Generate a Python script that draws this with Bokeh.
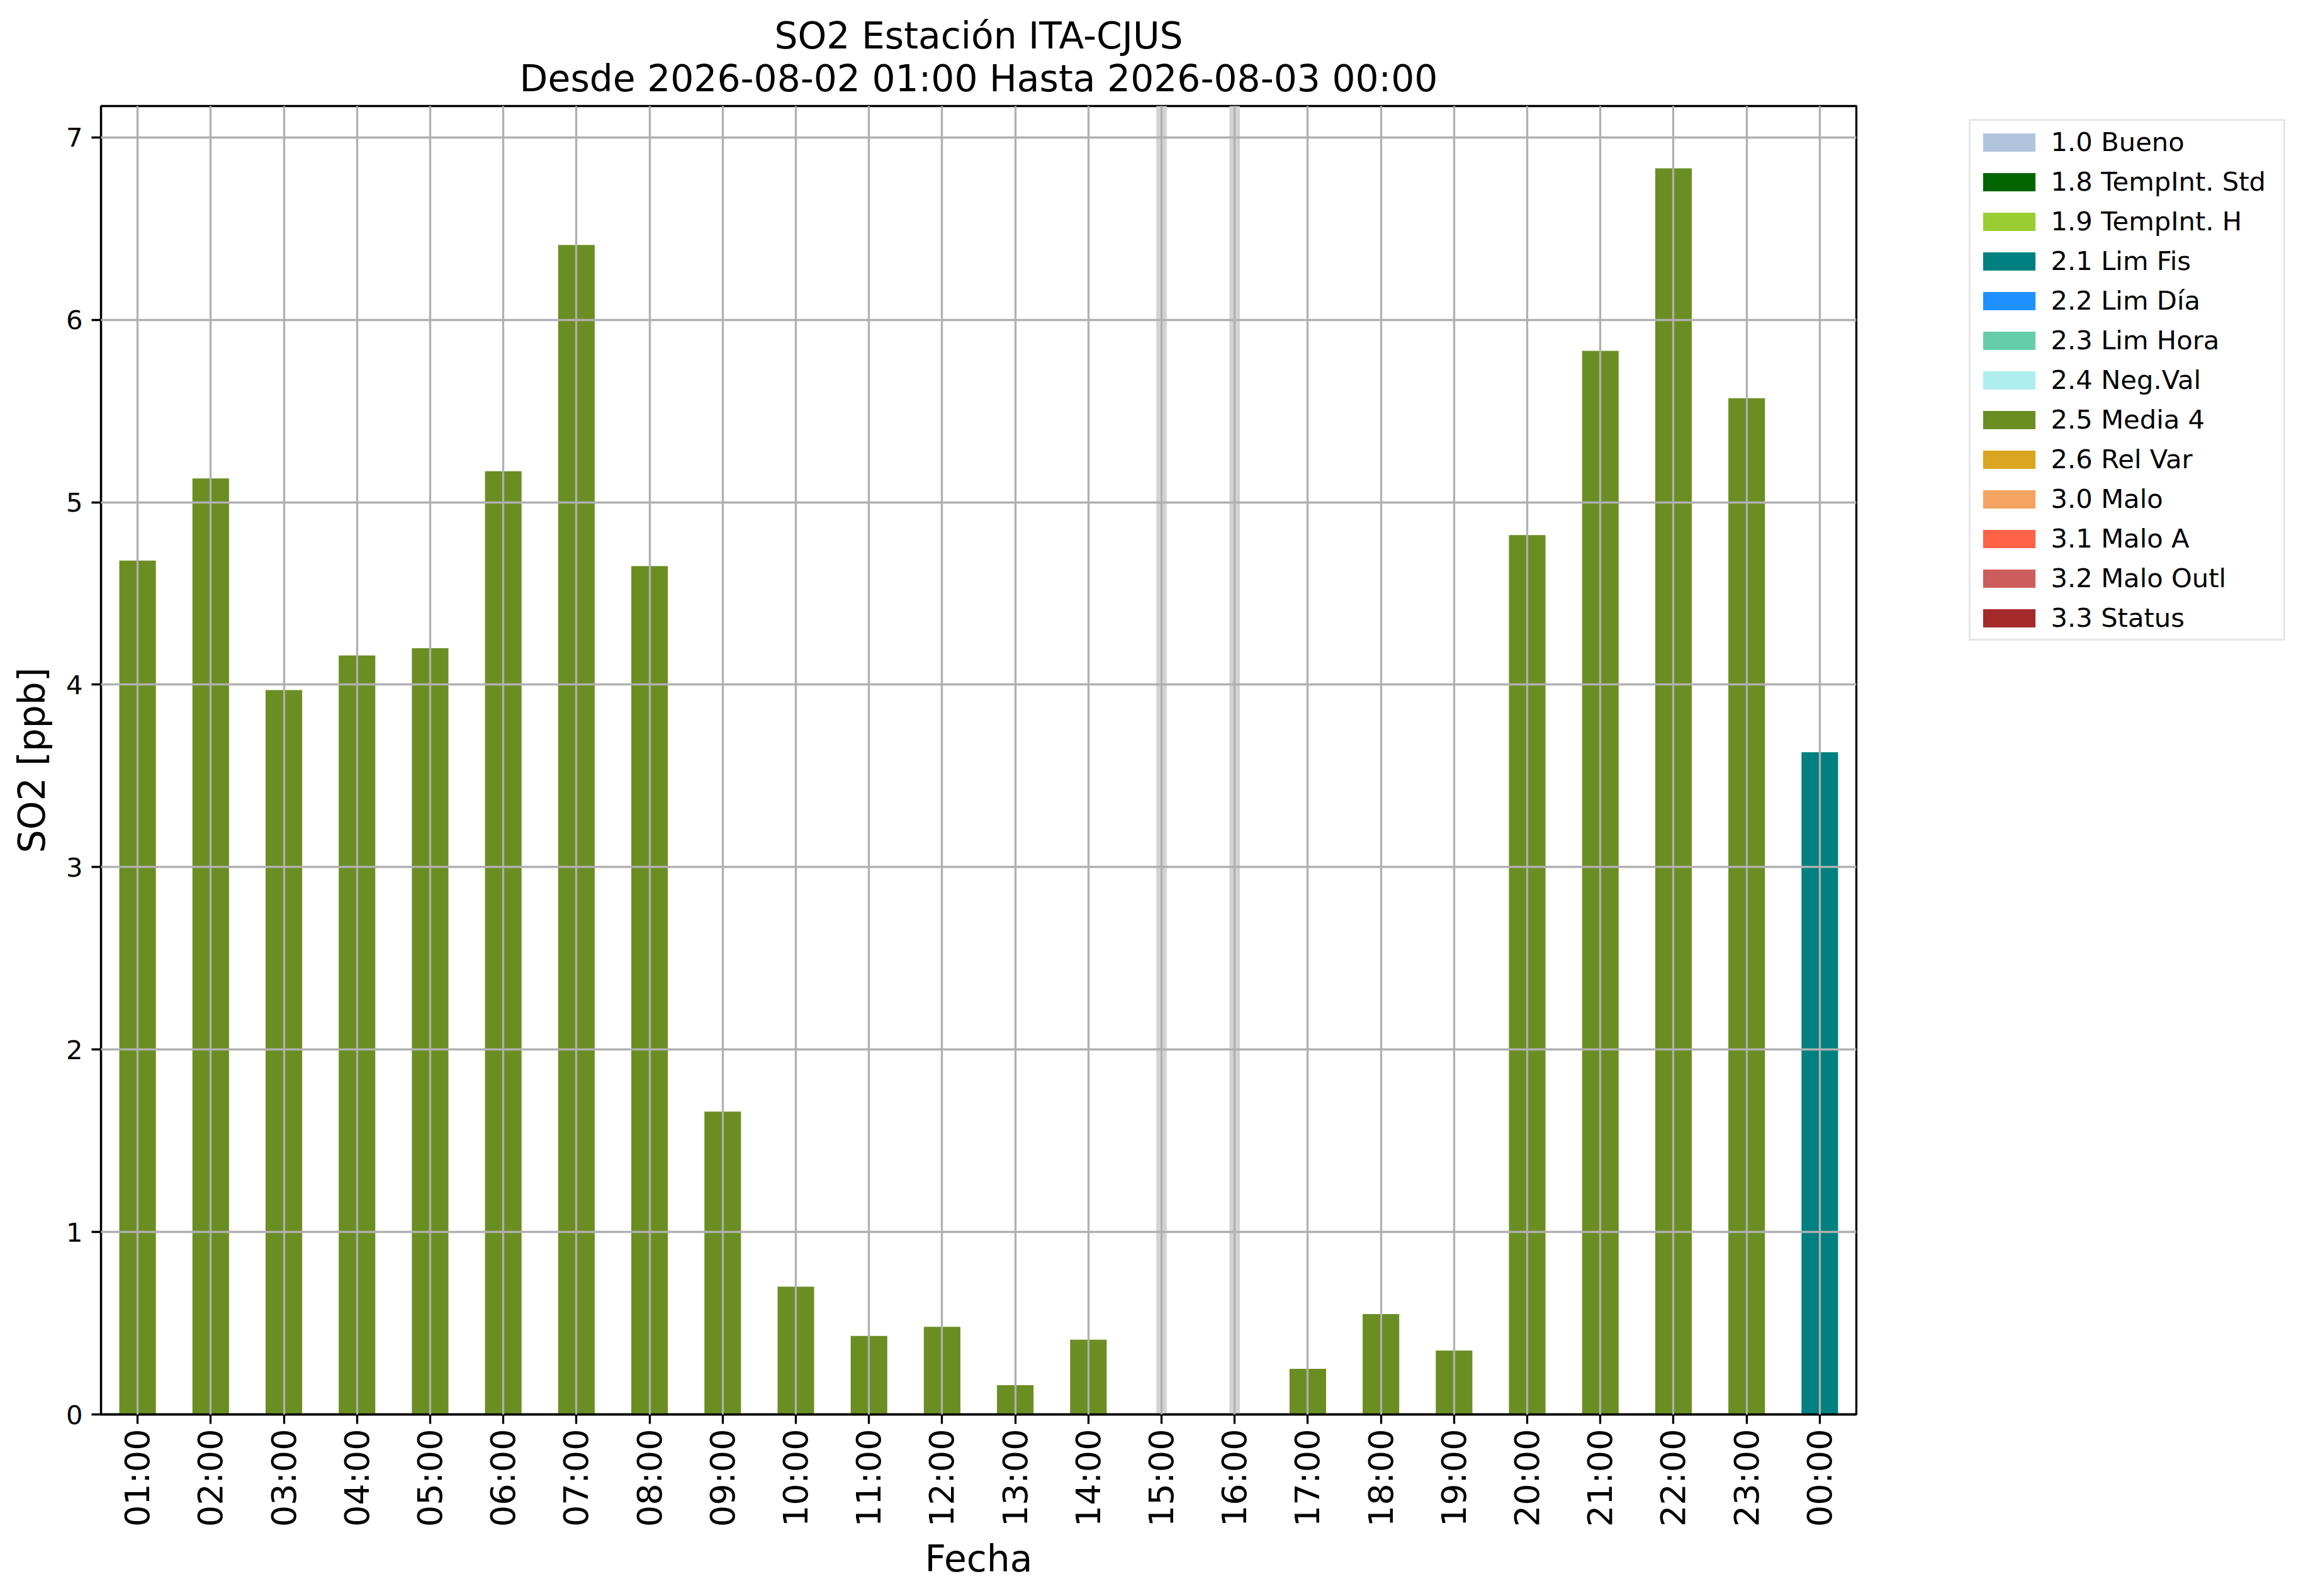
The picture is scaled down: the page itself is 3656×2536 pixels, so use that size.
import math
from bokeh.plotting import figure
from bokeh.layouts import row
from bokeh.models import FactorRange, Range1d, Legend, LegendItem, FixedTicker, Title
from bokeh.embed import file_html
from bokeh.resources import INLINE

hours = ["01:00", "02:00", "03:00", "04:00", "05:00", "06:00", "07:00", "08:00",
         "09:00", "10:00", "11:00", "12:00", "13:00", "14:00", "15:00", "16:00",
         "17:00", "18:00", "19:00", "20:00", "21:00", "22:00", "23:00", "00:00"]
values = [4.68, 5.13, 3.97, 4.16, 4.20, 5.17, 6.41, 4.65, 1.66, 0.70, 0.43, 0.48,
          0.16, 0.41, None, None, 0.25, 0.55, 0.35, 4.82, 5.83, 6.83, 5.57, 3.63]
flags = ["2.5", "2.5", "2.5", "2.5", "2.5", "2.5", "2.5", "2.5", "2.5", "2.5", "2.5", "2.5",
         "2.5", "2.5", None, None, "2.5", "2.5", "2.5", "2.5", "2.5", "2.5", "2.5", "2.1"]

flag_codes = ["1.0", "1.8", "1.9", "2.1", "2.2", "2.3", "2.4", "2.5", "2.6", "3.0", "3.1", "3.2", "3.3"]
flag_labels = ["1.0 Bueno", "1.8 TempInt. Std", "1.9 TempInt. H", "2.1 Lim Fis", "2.2 Lim Día",
               "2.3 Lim Hora", "2.4 Neg.Val", "2.5 Media 4", "2.6 Rel Var", "3.0 Malo",
               "3.1 Malo A", "3.2 Malo Outl", "3.3 Status"]
flag_colors = ["#b0c4de", "#006400", "#9acd32", "#008080", "#1e90ff", "#66cdaa", "#afeeee",
               "#6b8e23", "#daa520", "#f4a460", "#ff6347", "#cd5c5c", "#a52a2a"]

title_line1 = "SO2 Estación ITA-CJUS"
title_line2 = "Desde 2026-08-02 01:00 Hasta 2026-08-03 00:00"

FONT = "DejaVu Sans"
y_end = max(v for v in values if v is not None) * 1.05

p = figure(width=3100, height=2520, output_backend="svg", toolbar_location=None,
           x_range=FactorRange(factors=hours), y_range=Range1d(0, y_end),
           min_border_left=160, min_border_right=151, min_border_top=168,
           min_border_bottom=273)

# title: two centred lines
p.title.text = title_line1
p.title.text_font = FONT
p.title.text_font_size = "58.3px"
p.title.text_font_style = "normal"
p.title.text_color = "black"
p.title.align = "center"
p.title.standoff = -22.6
p.add_layout(Title(text=title_line2, text_font=FONT, text_font_size="58.3px",
                   text_font_style="normal", text_color="black", align="center",
                   standoff=19), "above")

# missing-data markers
missing = [h for h, v in zip(hours, values) if v is None]
p.segment(x0=missing, y0=[0] * len(missing), x1=missing, y1=[y_end] * len(missing),
          line_color="#d3d3d3", line_width=16.7)

series = []
for code in flag_codes:
    series.append([v if (f == code and v is not None) else float("nan")
                   for v, f in zip(values, flags)])

for ts, col in zip(series, flag_colors):
    p.vbar(x=hours, top=ts, bottom=0, width=0.5, fill_color=col, line_color=None)

for g in (p.xgrid, p.ygrid):
    g.grid_line_color = "#b0b0b0"
    g.grid_line_width = 3.3
    g.level = "guide"

p.outline_line_color = "black"
p.outline_line_width = 3.3
p.outline_line_alpha = 1

p.yaxis[0].ticker = FixedTicker(ticks=list(range(0, 8)))
for ax in (p.xaxis[0], p.yaxis[0]):
    ax.axis_line_color = "black"
    ax.axis_line_width = 3.3
    ax.major_tick_line_color = "black"
    ax.major_tick_line_width = 3.3
    ax.major_tick_out = 15
    ax.major_tick_in = 0
    ax.minor_tick_line_color = None
    ax.major_label_text_font = FONT
    ax.major_label_text_color = "black"
    ax.axis_label_text_font = FONT
    ax.axis_label_text_font_size = "58.3px"
    ax.axis_label_text_font_style = "normal"
    ax.axis_label_text_color = "black"

yax = p.yaxis[0]
yax.major_label_text_font_size = "41.7px"
yax.major_label_standoff = 14
yax.axis_label = "SO2 [ppb]"
yax.axis_label_standoff = 17

xax = p.xaxis[0]
xax.major_label_text_font_size = "54px"
xax.major_label_orientation = math.pi / 2
xax.major_label_standoff = 8
xax.axis_label = "Fecha"
xax.axis_label_standoff = 14

# legend panel (its own plot, to the right of the axes); legend keys only, no bars drawn
lg = figure(width=540, height=2520, output_backend="svg", toolbar_location=None,
            x_range=FactorRange(factors=hours), y_range=Range1d(0, y_end),
            x_axis_location=None, y_axis_location=None,
            min_border_left=0, min_border_right=0, min_border_top=0, min_border_bottom=0)
lg.xgrid.visible = False
lg.ygrid.visible = False
lg.outline_line_color = None

items = []
for lab, col in zip(flag_labels, flag_colors):
    r = lg.vbar(x=hours, top=[float("nan")] * len(hours), bottom=0, width=0.5,
                fill_color=col, line_color=None)
    items.append(LegendItem(label=lab, renderers=[r]))

legend = Legend(items=items, location=(27.6, 1229))
legend.label_text_font = FONT
legend.label_text_font_size = "41.7px"
legend.label_text_color = "black"
legend.glyph_width = 104
legend.glyph_height = 36
legend.label_height = 36
legend.label_width = 360
legend.label_standoff = 15
legend.spacing = 14
legend.padding = 9
legend.margin = 0
legend.border_line_color = "#cccccc"
legend.border_line_width = 3.3
legend.background_fill_color = "white"
legend.background_fill_alpha = 0.8
lg.add_layout(legend, "center")

layout = row(p, lg)
open("out.html", "w").write(file_html(layout, INLINE))
